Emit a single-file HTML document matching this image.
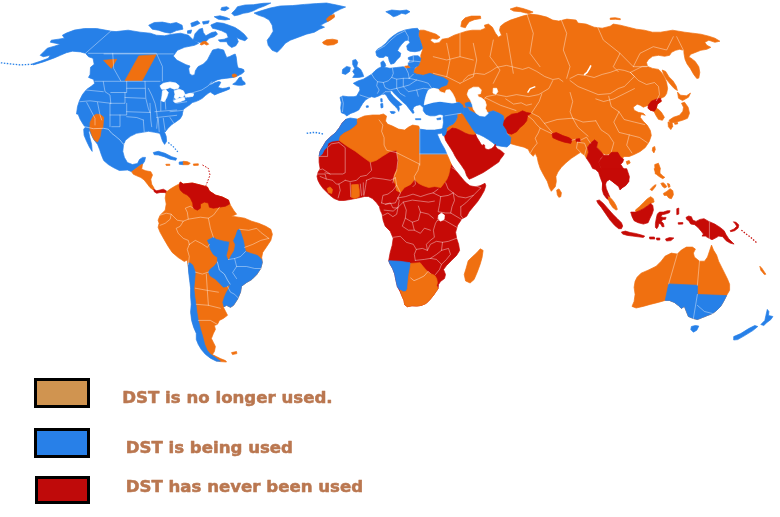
<!DOCTYPE html>
<html><head><meta charset="utf-8"><title>DST map</title>
<style>
html,body{margin:0;padding:0;background:#fff;}
body{width:780px;height:517px;position:relative;overflow:hidden;font-family:"Liberation Sans",Arial,sans-serif;}
svg{position:absolute;left:0;top:0;}
.b{fill:none;stroke:#fff;stroke-opacity:.5;stroke-linecap:round;}
.box{position:absolute;border:3px solid #000;}
.lbl{position:absolute;font-weight:bold;font-size:16px;color:#b87c52;white-space:nowrap;line-height:20px;}
</style></head><body>
<svg width="780" height="517" viewBox="0 0 780 517" stroke-linejoin="round">
<polygon fill="#2680e8" stroke="#2680e8" stroke-width="0.7" points="110.7,31.1 96.6,28.5 84.5,28.5 74.4,30.1 66.4,33.1 62.4,35.2 64.4,38.2 58.4,39.2 51.3,40.2 50.3,42.2 55.3,43.2 60.4,44.2 54.3,46.2 47.3,48.2 44.3,51.2 40.2,55.3 43.3,56.7 50.3,55.3 48.3,58.3 40.2,61.3 32.2,63.9 33.2,64.9 43.3,61.9 54.3,57.9 60.4,55.3 66.4,52.7 72.4,51.2 80.5,51.9 85.5,53.3 88.5,56.7 93,58.3 94.2,64.3 90.5,67.3 90.1,74.4 88.5,77.4 93.6,79.4 94.6,83.4 91.5,86.1 86.5,89.5 82.5,94.5 79.5,100.5 77.5,106.6 76.5,114 78.1,114.2 80.1,119.2 83.1,124.2 85.2,127.3 83.7,129.3 84.1,135.3 86.6,141.3 89.6,147.4 92.2,151.4 91.6,144.4 89.8,137.3 88.8,132.3 89.2,129.9 90.6,133.3 93.6,139.3 97.6,144.4 99.6,149.4 101.6,155.4 103.7,160.5 108.3,164.5 113.3,167.5 119.4,170.5 127.5,170 131.7,171.7 140.8,165 142.5,164.2 144.5,161.5 145.5,157.4 142.5,157.4 139.5,159.5 137.5,163.5 132.4,164.5 127.4,162.5 124.4,157.4 122.8,151.4 123.4,145.4 125.4,140.3 130.4,136.3 136.5,133.3 142.5,132.3 148.5,131.3 154.6,132.3 159.6,133.3 160.6,135.3 162.6,141.3 164.6,144.4 166.6,141.3 166.2,136.3 164.6,132.3 165.6,127.3 165.1,132 168.1,128.2 171.6,124.7 176.1,121.7 180.2,118.7 182.2,115.2 182.7,112.2 183.7,109.1 187.2,106.6 190.2,104.6 192.2,102.6 195.7,101.6 199.2,100.1 202.3,98.3 205.3,95.6 208.3,93.3 210.3,92.1 213.6,94.2 214.6,94.9 218.1,93.4 222.1,91.9 226.2,90.4 229.7,88.9 229.4,87 226.2,88 222.6,88.5 220.1,88 217.9,87.2 219.6,84.7 220.8,82.2 218.9,81.5 214.6,82.7 211.1,84.7 208.6,85.2 210.1,84 213.1,82 217.1,79.9 221.1,78.9 225.2,78.4 229.2,77.9 233.2,77.4 237.2,76.1 239.2,75.1 242.2,73.6 244.2,71.6 243.7,69.6 241.2,68.6 238.2,68.1 237.2,65.1 236.7,61.1 236.2,57 235.2,54 232.7,55 229.7,56.5 226.7,57.5 225.2,54 223.6,50 218.1,48.7 212.7,50 210.1,54.7 207.4,60 203.4,64 198,66.7 195.4,70.7 194.7,74.7 192,75.4 189.4,73.4 188.7,68.7 190,66 186,64.7 182,62.7 176.7,60 173.3,56 177.4,50.3 184.5,47.3 194.5,45.3 198.6,43.3 192.5,39.2 188.5,35.2 180.5,33.2 172.4,34.2 164.4,35.8 156.3,35.2 150.3,33.2 140.2,32.2 128.1,30.2 116.1,31.6 110.6,31.2"/>
<polygon fill="#2680e8" stroke="#2680e8" stroke-width="0.7" points="239.2,77.6 241.2,77.1 242.2,80.2 244.7,82.2 245.3,84.2 242.2,85.2 238.2,85.2 234.2,84.7 232.7,84.2 235.7,82.2 237.7,79.6"/>
<polygon fill="#2680e8" stroke="#2680e8" stroke-width="0.7" points="148.7,25.2 154.3,22.5 162.4,22.1 170.4,23.7 176.4,22.5 182.1,25.2 182.9,29.2 176.4,30.6 170.4,33.2 164.4,32.2 158.3,30.2 152.3,29.2"/>
<polygon fill="#2680e8" stroke="#2680e8" stroke-width="0.7" points="237.5,6.7 245,5 253.3,4.7 263.3,3.3 270.8,3 265,5.8 258.3,8.3 253.3,10.8 248.3,12.5 243.3,13.3 238.3,15 234.2,15.8 231.7,13.3 235,10"/>
<polygon fill="#2680e8" stroke="#2680e8" stroke-width="0.7" points="221.7,7.5 226.7,6.7 229.2,8.3 225,10.8 220.8,10"/>
<polygon fill="#2680e8" stroke="#2680e8" stroke-width="0.7" points="214.2,16.7 220,15.8 226.7,17.5 230,19.2 225,20 218.3,19.2"/>
<polygon fill="#2680e8" stroke="#2680e8" stroke-width="0.7" points="210.8,25 216.7,22.5 223.3,23.3 228.3,25 235,27.5 240,30.8 244.2,34.2 247.5,38.3 245,40.8 240,39.2 236.7,37.5 238.3,41.7 235.8,45.8 231.7,47.5 228.3,45 226.7,41.7 220,41.7 218.3,40 224.2,39.2 228.3,37.5 226.7,33.3 221.7,30.8 216.7,29.2 212.5,28.3"/>
<polygon fill="#2680e8" stroke="#2680e8" stroke-width="0.7" points="190.8,23.3 197.5,20.8 200,23.3 195,25.8 191.7,26.7"/>
<polygon fill="#2680e8" stroke="#2680e8" stroke-width="0.7" points="202.5,21.7 209.2,20.8 208.3,23.3 203.3,24.2"/>
<polygon fill="#2680e8" stroke="#2680e8" stroke-width="0.7" points="187.5,30.8 191.7,30 190.8,33.3 187.5,33.3"/>
<polygon fill="#2680e8" stroke="#2680e8" stroke-width="0.7" points="195,33.8 199.2,29.2 202.5,28.3 203.3,32.5 205.8,35.8 211.7,32.5 215.8,31.7 217.5,34.2 214.2,36.7 209.2,38.3 205.8,41.7 200,42.5 196.7,41.7 193.3,40"/>
<polygon fill="#f07010" stroke="#f07010" stroke-width="0.7" points="138.8,55.9 156.1,54.7 142.2,80.5 125.1,80.5"/>
<polygon fill="#f07010" stroke="#f07010" stroke-width="0.7" points="103.6,60.3 116.7,59.3 111.3,68.4"/>
<polygon fill="#f07010" stroke="#f07010" stroke-width="0.7" points="93.2,116.2 96.2,114.2 100.2,114.6 103.7,117.2 102.9,127.3 101.2,129.9 100.2,136.3 97.6,141.9 94.6,140.3 92.2,135.9 89.8,128.7 90.2,122.2"/>
<polygon fill="#f07010" stroke="#f07010" stroke-width="0.7" points="200,44.2 202.5,41.7 205.8,41.3 208.7,44.2 206.7,45 204.2,43.7 201.7,45"/>
<polygon fill="#f07010" stroke="#f07010" stroke-width="0.7" points="232.4,74.6 234.7,73.9 236.7,74.9 236.2,76.6 233.7,77.3 232.2,76.3"/>
<polygon fill="#ffffff" stroke="#ffffff" stroke-width="0.7" points="160,85.8 163.3,83.3 170,82 175.8,83 179.2,85.8 178.3,88.3 174.2,89.2 170,87.5 165.8,89.2 161.7,89.2"/>
<polygon fill="#ffffff" stroke="#ffffff" stroke-width="0.7" points="162.5,90.8 165.8,89.7 168.3,92.5 166.7,97.5 164.2,101.7 161.3,100.8 162,95.8"/>
<polygon fill="#ffffff" stroke="#ffffff" stroke-width="0.7" points="174.2,90.8 179.2,89.2 183.3,90.8 185,94.2 182.5,97.5 179.2,96.7 176.7,99.2 174.2,97.5 175,94.2"/>
<polygon fill="#ffffff" stroke="#ffffff" stroke-width="0.7" points="173.3,100.8 178.3,98.7 184.2,97.5 185,99.7 180,101.7 175,102.8"/>
<polygon fill="#ffffff" stroke="#ffffff" stroke-width="0.7" points="185,94.7 190,93.3 193.7,93.8 193,96.3 188.3,97 185.3,96.7"/>
<polygon fill="#f07010" stroke="#f07010" stroke-width="0.7" points="131.7,171.7 140.8,165 142.5,164.2 141.7,169.2 145.8,170.8 150.8,171.7 152.5,175 150.8,179.2 151.7,184.2 154.2,188.3 153.3,190 150,187.5 147.5,184.2 144.2,180 140.8,177.5 136.7,175.8 133.3,174.2"/>
<polygon fill="#c60a06" stroke="#c60a06" stroke-width="0.7" points="153.7,189.2 156.7,190.8 160,190 163.3,189.2 166.3,190.8 166.7,193.3 164.2,192.5 160,192.5 156.7,193.3 154.2,191.7"/>
<polygon fill="#2680e8" stroke="#2680e8" stroke-width="0.7" points="153.3,152.5 158.3,151.3 165,153.3 171.7,156.7 176.7,158.3 175.8,160.3 170,159.2 164.2,156.7 158.3,155 154.2,154.7"/>
<polygon fill="#2680e8" stroke="#2680e8" stroke-width="0.7" points="179.2,162 183.3,161.7 183.3,164.7 179.2,164.3"/>
<polygon fill="#f07010" stroke="#f07010" stroke-width="0.7" points="183.3,161.3 187.5,161.7 190.3,163.3 188.3,164.7 183.3,164.7"/>
<polygon fill="#f07010" stroke="#f07010" stroke-width="0.7" points="165.8,164.3 169.7,164.2 170,165.3 166.3,165.5"/>
<polygon fill="#f07010" stroke="#f07010" stroke-width="0.7" points="193.3,164 198.3,163.8 198.3,165.3 193.7,165.5"/>
<polygon fill="#2680e8" stroke="#2680e8" stroke-width="0.7" points="254.1,13.1 260.1,11.1 270.2,8 280.2,6 292.3,5.6 304.4,4.4 316.5,3.6 326.5,3 336.6,5 345.6,7 340.6,9.1 334.6,12.1 331.5,15.1 333.6,17.1 328.5,21.1 324.5,23.1 320.5,25.2 324.5,27.2 319.5,29.2 314.4,32.2 306.4,34.2 298.4,37.2 290.3,40.2 285.3,43.3 281.2,48.3 277.2,52.3 272.2,50.3 268.2,45.3 267.2,40.2 270.2,36.2 273.2,31.2 272.2,25.2 269.2,20.1 264.1,17.1 258.1,15.1"/>
<polygon fill="#f07010" stroke="#f07010" stroke-width="0.7" points="326.5,19.1 329.5,16.1 334.2,14.5 334.6,17.1 330.5,20.1 327.5,21.5"/>
<polygon fill="#f07010" stroke="#f07010" stroke-width="0.7" points="322.5,42.3 326.5,39.8 332.6,39.2 337.6,40.2 337.6,42.7 333.6,44.7 327.5,45.3 323.5,43.9"/>
<polygon fill="#2680e8" stroke="#2680e8" stroke-width="0.7" points="342.6,69.4 346.6,66.4 350.3,67.4 349.7,71.4 345.6,74.4 342.2,73.4"/>
<polygon fill="#2680e8" stroke="#2680e8" stroke-width="0.7" points="352.7,60.4 355.7,59.4 357.7,62.4 356.7,66.4 360.7,69.4 362.7,73.4 363.7,76.5 358.7,77.5 352.7,77.5 354.7,74.4 352.7,71.4 354.7,68.4 352.7,64.4"/>
<polygon fill="#f07010" stroke="#f07010" stroke-width="0.7" points="419.2,30.8 420,30.2 424,30.2 430.1,32.2 436.1,34.2 440.1,37.2 437.1,39.2 432.1,38.6 430.1,40.2 434.1,43.3 439.1,42.7 442.1,39.2 448.2,38.2 454.2,35.2 460.2,33.2 466.3,31.2 472.3,30.2 480.4,30.2 485.4,28.2 484.4,25.2 488.4,24.1 492.4,27.2 495.5,33.2 498.5,37.2 501.5,35.2 499.5,30.2 500.5,26.2 504.5,23.1 510.5,20.1 516.6,18.1 522.6,16.1 530.7,14.1 538.7,15.1 546.8,17.1 552.8,20.1 558.8,21.1 566.9,19.1 576.1,20.1 578,23.1 586.1,24.1 594.1,27.2 602.2,28.2 610.2,26.2 613.3,24.1 620.3,25.2 628.4,27.2 636.4,29.2 644.4,30.2 652.5,32.2 660.5,32.2 666.6,31.2 672.6,30.2 678.7,31.2 684.7,32.2 692.7,33.2 700.8,34.2 708.8,36.2 714.9,38.2 719.9,41.2 714.9,42.3 708.8,40.2 704.8,42.3 706.8,45.3 710.8,47.3 706.8,49.3 700.8,50.3 694.7,52.7 690.7,54.3 688.7,57.3 690.7,57.9 695.2,61.4 698.8,66.8 699.8,72.4 698.8,78.1 696.8,78.5 693.7,74.4 690.3,68.4 687.1,64 685.1,59.4 684.1,54.3 683.7,50.3 679.7,49.3 675.6,50.3 671.6,52.3 669.6,55.3 664.6,56.3 658.5,55.3 652.5,56.3 648.5,59.4 646.5,62.4 647.5,66.4 652.5,68.4 658.5,69.4 661.5,72.4 664.6,77.5 666.6,82.5 667.6,88.5 666.6,93.6 664.6,96.6 660.5,98.6 656.5,100.6 658.4,98.2 661.4,101.2 657.3,104.2 656.3,108.2 658.4,109.2 661.4,112.3 664.4,117.3 662.4,120.3 658.4,119.3 655.9,115.3 653.9,111.2 650.3,110.2 648.3,105.2 643.3,107.2 640.2,105.2 637.2,104.2 633.2,107.2 634.2,110.2 638.2,112.3 643.3,113.3 645.3,115.3 641.2,114.3 640.2,117.3 643.3,121.3 647.3,125.3 650.3,130.4 651.3,135.4 649.3,141.4 645.3,147.5 640.2,151.5 634.2,154.5 629.2,156.5 624.1,156.5 622.1,158.5 620.1,161.5 617.1,156.5 612.1,153.5 606,154.5 600,152.5 603.6,155.3 600.6,151.2 596.6,147.2 597.6,142.2 594.6,139.8 590.5,143.2 587.5,147.2 588.5,152.3 586.5,158.3 584.5,155.3 580.5,152.3 577.5,154.3 571.4,158.3 566,162.7 561.4,167.3 557.9,172 555.9,176.6 556.3,181.4 555.3,186.7 551.3,191.3 549.3,187.5 547.3,181.4 543.3,174.4 540.2,168.4 538.2,162.3 537.2,157.3 535.2,153.3 533.2,156.3 530.2,153.3 528.2,149.2 524.1,147.2 516.1,145.2 509.1,143.2 510.1,138.2 508,133.1 503,125.1 504,121.1 503,116 500,114 499.2,113.3 493.3,110.8 488.3,112.5 484.2,115.8 475,113.3 470,110.8 467.5,107.5 463.3,108.3 461.7,105 459.2,102.5 454.2,100.8 445,96.7 438.3,90 430,83.3 423.3,75.3 416.7,74.2 413.3,72.5 414.2,69.2 418.3,65.8 420,61.7 420.8,58.3 420.8,55 422.5,50 422.5,48.3 421.7,45 420,40 418.3,35"/>
<polygon fill="#f07010" stroke="#f07010" stroke-width="0.7" points="460.8,26.6 461.9,21.1 465.3,17.7 471.3,16.1 480.4,16.1 480.8,18.5 474.3,19.7 469.3,21.7 466.7,25.2 465.3,27.8"/>
<polygon fill="#f07010" stroke="#f07010" stroke-width="0.7" points="510.1,9.1 516.6,7 523,8.5 529.1,10.5 533.1,12.1 528.7,13.7 520.6,11.7 513.6,11.1"/>
<polygon fill="#f07010" stroke="#f07010" stroke-width="0.7" points="610.2,18.1 615.3,17.7 620.3,18.7 620.3,19.7 615.3,19.3 610.2,19.5"/>
<polygon fill="#f07010" stroke="#f07010" stroke-width="0.7" points="662.2,70 665.6,71.4 669,76.9 673,80.9 676.2,86.1 677.4,90.5 674.2,88.5 670.2,84.1 666.2,79.1 663.6,74.4"/>
<polygon fill="#f07010" stroke="#f07010" stroke-width="0.7" points="677.5,92.1 680.5,95.2 686.5,95.8 690.5,93.1 688.5,97.2 682.5,100.6 678.5,98.2"/>
<polygon fill="#f07010" stroke="#f07010" stroke-width="0.7" points="669,120.3 673.4,117.3 679.5,115.3 682.9,111.2 683.5,107.2 681.5,103.2 684.5,102.2 688.1,107.2 689.5,113.3 687.5,118.3 682.5,120.3 676.5,121.9 672.4,122.7 670,122.3"/>
<polygon fill="#f07010" stroke="#f07010" stroke-width="0.7" points="668,121.9 672,122.7 672.8,126.3 670.8,129.6 668.4,126.7"/>
<polygon fill="#f07010" stroke="#f07010" stroke-width="0.7" points="674.4,122.7 677.5,122.3 677.7,123.9 674.8,124.3"/>
<polygon fill="#f07010" stroke="#f07010" stroke-width="0.7" points="652.7,147.5 654.7,146.5 655.3,149.5 653.9,152.9 652.3,150.5"/>
<polygon fill="#f07010" stroke="#f07010" stroke-width="0.7" points="626.2,161.5 629.2,160.5 630.2,163 627.2,164.6"/>
<polygon fill="#f07010" stroke="#f07010" stroke-width="0.7" points="457.1,114 461.6,113 465.1,115 467.1,119 470.2,123.1 472.7,126.6 474.7,130.1 475.7,132.6 475.7,134.6 473.2,135.1 469.1,134.6 465.1,133.1 460.6,130.6 456.1,128.6 452.1,128.1 449.5,130.1 446,132.6 444.5,136.1 444,134.1 445,129.6 449,126.1 453.1,124.1 455.6,121.1 457.1,117.5"/>
<polygon fill="#f07010" stroke="#f07010" stroke-width="0.7" points="556.7,190.1 559,188.9 561.4,192.7 560.8,196.7 558.8,197.3 557.3,194.7"/>
<polygon fill="#2680e8" stroke="#2680e8" stroke-width="0.7" points="385.8,11.7 391.7,10 400,10.8 406.7,10 410,11.7 405.8,14.2 401.7,13.3 396.7,15.8 393.3,16.7 390,14.2"/>
<polygon fill="#2680e8" stroke="#2680e8" stroke-width="0.7" points="375.8,51.7 377.5,49.2 381.7,46.7 385.8,43.3 389.2,39.2 393.3,35.8 398.3,32.5 405,30 411.7,28.7 417.5,28.3 419.2,30.8 418.3,35 420,40 421.7,45 422.5,48.3 420,50.8 415,51.7 410,51.3 407.5,50 406.7,45.8 410,42.5 408.3,40 405,40.8 401.7,44.2 399.2,47.5 397.5,50.8 400.8,53.3 400,56.7 396.7,60 394.2,63.3 390.8,64.2 389.2,60.8 388.3,56.7 385.8,55.8 383.3,57.5 379.2,57.5 376.7,55.8"/>
<polygon fill="#2680e8" stroke="#2680e8" stroke-width="0.7" points="408.3,57.5 413.3,55.8 418.3,55.8 420.8,58.3 420,61.7 418.3,65.8 415,67.5 410.8,67.5 408.3,65.8 408.3,62.5 410.8,60.8 408.3,59.2"/>
<polygon fill="#2680e8" stroke="#2680e8" stroke-width="0.7" points="380.8,62.5 383.3,60.8 385,63.3 385.8,65.8 384.2,67.5 381.3,67"/>
<polygon fill="#2680e8" stroke="#2680e8" stroke-width="0.7" points="353.3,83.3 358.3,80.8 363.3,79.2 367.5,76.7 371.7,74.2 375,70.8 378.3,68.3 381.3,67 385.8,67.5 390,68.3 396.7,67.5 403.3,66.7 405.8,68 410,67.5 415,67.5 414.2,69.2 413.3,72.5 416.7,74.2 423.3,75.3 430,73.3 436.7,75.8 443.3,77.5 448.3,80.8 446.7,85 441.7,86.7 438.3,89.2 434.2,88 430,88.3 428.3,90.8 426.3,95 425.3,100 424.2,104.2 427.5,104.2 433.3,102.5 440,101.7 446.7,102.5 453.3,103.3 455.8,102.8 459.2,102.5 462.5,105 463.7,109.2 463.3,114.2 461.6,113 457.1,114 457.1,117.5 455.6,121.1 453.1,124.1 449,126.1 445,129.6 444,134.1 443,135.6 442.2,131.6 442.8,127.1 443.5,122.1 443,118 443.5,115 445,115.8 440,114.2 435,115.8 430,115.8 425.8,114.2 423.3,110.8 423.3,107.5 420.1,104.7 416.8,105.4 414.1,106.7 412.8,109.4 414.1,112.7 412.8,113.4 410.1,110 408.1,107.4 406.1,104.7 402.8,102 399.4,98.7 396.1,95.4 393.4,92.7 392.1,90.7 390.1,91.3 390.7,93.4 393.4,96.7 396.7,100 400.1,102.7 402.1,104.7 398.7,106 399.4,108.7 398.7,111.4 397.4,108.7 394.7,106 391.4,102.7 388.7,99.4 386.7,96 384.7,94 381.4,94.7 378.7,96 374.7,97.4 371.4,96.7 368.7,98 365.4,100 362.7,103.4 360.7,106.7 358.7,110 354.7,112 350.7,113.4 346.7,116 344.7,114 341.3,112.7 340.7,108 341.3,102.7 340,97.4 342.7,96 348,96.7 354,96.7 356.7,96 360,90 359.2,86.7 356.7,85.8"/>
<polygon fill="#2680e8" stroke="#2680e8" stroke-width="0.7" points="390.1,111.6 393.4,111.4 395.4,112 394.1,113.6 391.4,113.4"/>
<polygon fill="#2680e8" stroke="#2680e8" stroke-width="0.7" points="380.7,103.8 382.7,103.4 383,107.4 381.1,108"/>
<polygon fill="#2680e8" stroke="#2680e8" stroke-width="0.7" points="380.7,98.7 382.1,98.7 382.2,102 380.9,101.8"/>
<polygon fill="#2680e8" stroke="#2680e8" stroke-width="0.7" points="415.4,118.7 420.8,118.7 420.8,119.7 415.7,119.7"/>
<polygon fill="#2680e8" stroke="#2680e8" stroke-width="0.7" points="436.8,118.5 440.8,117.8 440.8,119.5 437.2,119.8"/>
<polygon fill="#f07010" stroke="#f07010" stroke-width="0.7" points="404.7,66.3 408.3,65.8 410,67.5 405.8,68"/>
<polygon fill="#f07010" stroke="#f07010" stroke-width="0.7" points="435,90.8 437.5,89.2 440.8,89.7 444.2,90.8 443.3,92.5 439.2,92.5 436.7,93.3"/>
<polygon fill="#2680e8" stroke="#2680e8" stroke-width="0.7" points="465,103.3 469.2,102 473.3,104.2 473,107 469.2,106.7 465.8,106.3"/>
<polygon fill="#2680e8" stroke="#2680e8" stroke-width="0.7" points="463.3,108.3 467.5,107.5 470,110.8 475,113.3 480,115.8 484.2,115.8 488.3,112.5 493.3,110.8 499.2,113.3 503.3,115.8 504.2,120.8 503.3,125 506.7,130 506.7,133.3 510.8,137.5 510,144.2 507,147 500.8,146.2 495.8,145.3 492.5,142.5 488.3,139.5 483.7,136.7 479.2,134.5 475.8,133.3 473.3,130 470,125 466.7,120 463.3,114.2"/>
<polygon fill="#ffffff" stroke="#ffffff" stroke-width="0.7" points="428.3,90.3 433.3,88.3 438.3,89.2 440,91.7 445,93.3 446.3,90 449.7,89.7 452.5,93.3 455,98.3 455.8,102.5 451.7,103 446.7,102.2 440,101.3 433.3,102.2 427.5,103.8 424.2,105 425,100 426.3,95"/>
<polygon fill="#ffffff" stroke="#ffffff" stroke-width="0.7" points="467.2,94.2 468.8,89.7 473.3,87.2 478.7,87.2 481.3,90 480.5,93.7 477.5,94.3 478.3,96.7 481.7,98 485,100.8 486.3,105 485.3,108.3 487,111.7 488.3,113.3 485,116.3 479.7,115.7 476.2,113.3 473.3,109 472.2,104.5 470.5,100.3 468.3,97"/>
<polygon fill="#ffffff" stroke="#ffffff" stroke-width="0.7" points="493.3,88.3 496.7,88.3 497.8,91.7 495.8,94.2 493,93"/>
<polygon fill="#c60a06" stroke="#c60a06" stroke-width="0.7" points="444.5,136.1 446,132.6 449.5,130.1 452.1,128.1 456.1,128.6 460.6,130.6 465.1,133.1 469.1,134.6 473.2,135.1 475.7,134.6 476.7,137.1 478.7,140.2 480.2,142.7 481.2,144.7 482.7,145.2 483.4,144.4 484.7,145.2 484.7,147 485.2,148.7 488.2,149.7 491.3,148.7 493.8,146.7 495.3,144.2 495.8,146.7 497.3,148.7 500.3,150.2 502.8,152.2 504.3,153.7 502.8,156.2 500.3,159.2 498.8,162 493.3,165.8 488.3,169.2 483.3,172.5 478.3,175 473.3,177.5 469.2,179.2 466.7,175.8 465,170.8 461.7,165.8 457.5,160 455.1,156.2 453.1,152.2 450.6,148.2 448,144.2 445.5,140.2"/>
<polygon fill="#c60a06" stroke="#c60a06" stroke-width="0.7" points="504.2,120.8 506.7,117.5 511.7,114.2 517.5,113.3 522.5,110.8 526.7,112.5 530.8,113.3 527.5,115.8 526.7,120.8 523.3,125 520,127.5 516.7,131.7 511.7,134.2 507.5,133.3 506.7,130 503.3,125"/>
<polygon fill="#c60a06" stroke="#c60a06" stroke-width="0.7" points="551.9,133.7 556.3,132.5 562.8,135.6 568.8,137.6 572,139.8 570.8,143.4 564.4,142.2 558.4,140.2 552.9,137.8"/>
<polygon fill="#c60a06" stroke="#c60a06" stroke-width="0.7" points="575.5,139.2 579.5,138.6 580.5,141.2 576.5,141.8"/>
<polygon fill="#c60a06" stroke="#c60a06" stroke-width="0.7" points="586.5,158.3 588.5,152.3 587.5,147.2 590.5,143.2 594.6,139.8 597.6,142.2 596.6,147.2 600.6,151.2 603.6,155.3 600.6,158.3 598.6,162.3 600.6,167.3 602.6,172.4 603.6,178.4 602.6,183.4 600.6,178.4 598.6,172.4 595.6,169.4 592.6,168.4 590.5,164.3 588.5,161.3"/>
<polygon fill="#c60a06" stroke="#c60a06" stroke-width="0.7" points="598.6,162.3 603.6,155.3 608.7,155.3 611.7,152.3 617.7,152.3 620.7,157.3 623.7,159.3 622.7,162.3 620.7,164.3 624.7,170.4 627.8,176.4 628.8,181.4 625.8,185.5 620.7,188.5 618.7,185.5 613.7,182.4 609.7,179.4 606.6,181.4 604.6,184.4 603.6,189.5 605.6,193.5 608.7,197.5 609.7,200.5 606.6,198.5 603.6,194.5 602.2,189.5 602.6,183.4 603.6,178.4 602.6,172.4 600.6,167.3"/>
<polygon fill="#c60a06" stroke="#c60a06" stroke-width="0.7" points="648.3,105.2 651.3,101.2 656.3,99.2 660.4,98.2 661.4,101.2 657.3,104.2 656.3,108.2 654.3,111.2 650.3,110.2 647.9,108.2"/>
<polygon fill="#c60a06" stroke="#c60a06" stroke-width="0.7" points="600,168.7 601.3,175.3 602.7,182 602.7,187.4 603.4,190.7 606,194 608.7,196.7 610,197.4 608,192.7 606.3,188.7 605.6,184.7 606.3,180.7 608,178 611.4,180.7 615.4,184 618.7,186.7 620,190 622.7,187.4 626,184.7 628.7,181.3 629.4,176.7 628.1,172.7 626.7,168.7"/>
<polygon fill="#f07010" stroke="#f07010" stroke-width="0.7" points="608.7,196.7 611.4,198.7 614,202 616,205.4 617.4,209.4 616,210.1 612.7,207.4 610,203.4 608.4,199.4"/>
<polygon fill="#c60a06" stroke="#c60a06" stroke-width="0.7" points="596.7,200.7 599.3,200 603.4,203.4 608,208.7 612.7,214.1 617.4,218.7 621.4,222.7 622.7,226.1 621.4,228.7 618.7,228.7 614.7,225.4 610,220.1 605.4,213.4 601.3,207.4 598,203.4"/>
<polygon fill="#c60a06" stroke="#c60a06" stroke-width="0.7" points="621.4,232.1 625.4,231.1 630.1,232.5 635.4,233.4 640.7,234.8 644.7,236.1 643.4,237.4 638.1,236.8 632.7,236.1 627.4,235.4 622.7,234.1"/>
<polygon fill="#c60a06" stroke="#c60a06" stroke-width="0.7" points="649.4,237 654.4,237 654.8,239 649.8,239"/>
<polygon fill="#c60a06" stroke="#c60a06" stroke-width="0.7" points="656.4,238 659.8,238 659.8,240 656.8,240"/>
<polygon fill="#c60a06" stroke="#c60a06" stroke-width="0.7" points="665.5,239 669.5,237.6 673.9,238 670.9,240.6 666.5,241"/>
<polygon fill="#f07010" stroke="#f07010" stroke-width="0.7" points="635.4,210.1 639.4,206.7 643.4,202.7 647.4,198.7 650.7,196.7 653.4,198.7 654.1,202 650.7,203.4 647.4,206 643.4,208.7 639.4,210.7 636.1,212.1"/>
<polygon fill="#c60a06" stroke="#c60a06" stroke-width="0.7" points="630.7,212.1 636.1,212.1 639.4,210.7 643.4,208.7 647.4,206 650.7,203.4 652.8,205.4 653.4,210.1 652.1,214.1 650.1,218.1 648.1,222.7 643.4,224.1 638.1,222.7 634.1,220.7 632.1,216.7"/>
<polygon fill="#c60a06" stroke="#c60a06" stroke-width="0.7" points="657.4,214.1 659.4,212.1 663.4,212.1 667.4,210.7 670.1,210.7 669.4,212.7 665.4,214.1 662.1,214.7 660.8,216.7 663.4,217.4 666.1,217.4 665.4,219.4 662.8,219.4 661.4,221.4 663.4,223.4 664.1,226.7 662.1,226.7 660.8,224.1 658.8,223.4 658.1,226.7 656.8,228.7 655.4,227.4 655.4,223.4 656.1,219.4 656.8,216.1"/>
<polygon fill="#c60a06" stroke="#c60a06" stroke-width="0.7" points="676.8,208.7 678.8,208.1 678.8,214.1 676.8,214.7"/>
<polygon fill="#c60a06" stroke="#c60a06" stroke-width="0.7" points="678.1,222.7 682.8,222.5 682.8,224.1 678.4,224.2"/>
<polygon fill="#c60a06" stroke="#c60a06" stroke-width="0.7" points="686,217.4 688.7,216 691.4,216.7 692.7,220 696,221.4 700,219.4 704,218.7 708.7,221.4 714.7,224 720.1,227.4 724.1,230.7 726.1,234.7 728.7,238.7 732.1,242.1 734.1,244.1 730.1,243.1 726.1,240.7 722.7,236.7 718.7,236.1 715.4,238.1 712,239.7 708.7,238.1 705.4,236.1 702,236.1 703.4,234.1 701.4,231.4 698,227.4 694.7,224.7 690.7,224 688.7,220.7 686.7,219.4"/>
<polygon fill="#c60a06" stroke="#c60a06" stroke-width="0.7" points="733.4,221.8 736.1,222.3 738.8,225 738.1,228.1 734.7,230.7 730.7,231.7 730.1,230.7 734.1,229 736.7,226.3 735.4,224"/>
<polyline fill="none" stroke="#c60a06" stroke-width="1.2" stroke-dasharray="1.5 1.5" points="741.4,230.1 745.4,233.4 750.8,237.4 757.4,243.4"/>
<polygon fill="#f07010" stroke="#f07010" stroke-width="0.7" points="654.1,168.7 659.4,168.7 660.1,173.3 662.8,176 664.8,177.3 662.8,178.7 659.4,176.7 656.8,174.7 655.4,172"/>
<polygon fill="#f07010" stroke="#f07010" stroke-width="0.7" points="650.1,189.4 654.1,185.4 656.1,184.7 655.4,186.7 652.1,190.7"/>
<polygon fill="#f07010" stroke="#f07010" stroke-width="0.7" points="660.8,183.4 663.4,182.7 665.4,184.7 666.8,186.7 664.8,188 662.8,186.7"/>
<polygon fill="#f07010" stroke="#f07010" stroke-width="0.7" points="667.4,183.4 669.4,184 670.1,186.7 668.5,187.4"/>
<polygon fill="#f07010" stroke="#f07010" stroke-width="0.7" points="663.4,193.4 666.8,191.4 670.1,188.7 672.8,190.7 673.4,194.7 671.4,198.7 668.8,198 666.8,195.4 664.1,195.4"/>
<polygon fill="#f07010" stroke="#f07010" stroke-width="0.7" points="654.7,164.6 658.4,163.2 660.4,168.6 659.2,174 655.3,174"/>
<polygon fill="#f07010" stroke="#f07010" stroke-width="0.7" points="637.1,277.2 641.1,273.2 648.1,270.2 656.2,266.2 661.2,261.2 665.2,256.1 671.3,253.1 677.3,254.1 681.3,250.1 686.4,247.1 692.4,247.1 695.4,249.1 693.4,253.1 694.4,257.1 699.5,261.2 704.5,261.2 707.5,257.1 709.5,251.1 711.5,245.1 713.5,250.1 716.6,255.1 718.6,261.2 721.6,267.2 724.6,273.2 727.6,279.3 729.6,284.3 729.6,290.3 726.6,295.4 723.6,301.4 720.6,306.4 716.6,310.4 712.5,313.5 707.5,315.5 702.5,317.5 697.4,319.5 693.4,318.5 688.4,316.5 686.4,311.5 684.4,306.4 681.3,308.4 678.3,305.4 674.3,302.4 669.3,300.4 665.2,300.4 658.2,302.4 650.2,304.4 643.1,306.4 636.1,308 632,306.4 634.1,301.4 635.1,294.4 634.1,287.3 635.1,281.3"/>
<polygon fill="#2680e8" stroke="#2680e8" stroke-width="0.7" points="668.7,283.9 697.4,285.3 697.4,294.4 726.6,295.6 723.6,301.4 720.6,306.4 716.6,310.4 712.5,313.5 707.5,315.5 702.5,317.5 697.4,319.5 693.4,318.5 688.4,316.5 686.4,311.5 684.4,306.4 681.3,308.4 678.3,305.4 674.3,302.4 669.3,300.4 665.2,300.4"/>
<polygon fill="#2680e8" stroke="#2680e8" stroke-width="0.7" points="691.4,326.5 695.4,325.5 698.8,326.1 696.8,330.2 693.4,332.2 690.8,329.6"/>
<polygon fill="#2680e8" stroke="#2680e8" stroke-width="0.7" points="767.3,309.4 768.9,311.5 768.5,315.5 772.9,316.5 770.9,319.5 766.9,322.5 763.8,325.5 760.8,324.5 764.8,320.5 765.9,315.5"/>
<polygon fill="#2680e8" stroke="#2680e8" stroke-width="0.7" points="733.7,336.6 740.7,333.6 748.7,328.6 754.8,325.5 757.8,326.5 752.8,330.6 744.7,335.6 737.7,339.6 733.7,340"/>
<polygon fill="#f07010" stroke="#f07010" stroke-width="0.7" points="759.8,266.2 761.8,268.2 765.9,274.2 764.4,274.6 760.8,270.2"/>
<polygon fill="#c60a06" stroke="#c60a06" stroke-width="0.7" points="346.7,122.1 356,122.7 364,119.4 377.4,118.5 382.7,118.7 384.1,124.1 390.1,128.1 398.7,132.7 406.1,135.4 411.4,130.1 420.1,132.1 430.8,133.4 436.1,133.4 435,135 438.3,141.7 441.7,148.3 444.2,152.5 446.7,156.7 449.5,161.7 453,167 456.7,171.7 460.8,176.7 464.2,180.8 466.7,183.3 470,185.8 475,186.7 480,185.8 485,183.3 485.8,185.8 484.2,190.8 480.8,196.7 477.5,201.7 473.3,206.7 469.2,211.7 466.7,216.2 461.6,219.2 457.6,225.2 455.6,232.3 456.6,238.3 458.6,244.3 459.6,250.4 456.6,255.4 451.5,260.4 446.5,265.5 443.5,269.5 445.5,274.5 444.5,278.5 440.5,281.5 438.5,284.6 438.1,288.7 436.1,291.4 433.4,295.4 430.1,299.4 426.1,303.4 421.4,305.4 416.7,306.1 412,305.8 407.4,306.7 404.7,304.7 404,300.7 402,296.1 400,291.4 397.4,286.7 396,280.7 394.7,274 392.7,268.7 390,264 388.7,260.7 390.2,252.4 392.2,245.3 393.2,238.3 390.2,231.2 385.2,226.2 383.1,220.2 382.1,214.1 380.4,210.6 379.4,206.6 376.4,202.6 372.4,198.5 368.4,196.5 364.3,196.5 360.3,197.5 355.3,198.5 350.2,199.5 344.2,200.5 339.2,200.5 334.1,198.5 330.1,195.5 327.1,192.5 323.1,188.5 320.1,184.4 318,180.4 317,176.4 318,172.4 320.1,168.4 319.1,162.3 319.1,156.3 320.1,151.2 323.1,146.2 326.1,141.2 330.1,137.2 335.2,133.1 339.2,128.1 342.2,123.1 346.2,119.1"/>
<polygon fill="#2680e8" stroke="#2680e8" stroke-width="0.7" points="346.2,119.1 350.2,118 357.3,119.1 357.3,124.1 354.3,127.1 350.2,130.1 344.2,133.1 340.2,136.2 339.2,140.2 332.1,141.2 328.1,143.2 327.1,147.2 324.1,150.2 322.1,154.3 319.1,156.3 320.1,151.2 323.1,146.2 326.1,141.2 330.1,137.2 335.2,133.1 339.2,128.1 342.2,123.1"/>
<polygon fill="#f07010" stroke="#f07010" stroke-width="0.7" points="357.3,119.1 364.3,116 372.4,115 379.4,115 383.4,114 386.5,116 385.5,121.1 387.5,124.1 392.5,126.1 398.5,129.1 404.6,130.1 408.6,127.1 412.6,125.1 418.7,126.1 419.7,129.1 419.7,153.9 446.8,153.9 448.8,158.3 451.2,164.3 450,168.4 448.8,174.4 446.8,179.4 443.8,183.4 440.8,187.5 434.7,186.5 428.7,187.5 422.7,185.5 418.7,183.4 414.6,179.4 410.6,184.4 404.6,187.5 400.5,192.5 396.5,190.5 395.5,184.4 393.5,180.4 394.5,174.4 397.5,168.4 398.5,160.3 397.5,155.3 396.5,150.2 390.5,151.2 382.4,156.3 376.4,160.3 370.4,162.3 363.3,157.3 355.3,151.2 347.2,146.2 340.2,141.2 339.2,140.2 340.2,136.2 344.2,133.1 350.2,130.1 354.3,127.1 357.3,124.1"/>
<polygon fill="#2680e8" stroke="#2680e8" stroke-width="0.7" points="419.7,129.1 426.7,130.1 434.7,130.1 440.8,129.1 443.8,128.1 446.8,129.1 445.8,134.1 443.8,136.2 441.8,133.1 437.2,134.1 440.8,142.2 444.8,149.2 446.8,153.9 419.7,153.9"/>
<polygon fill="#f07010" stroke="#f07010" stroke-width="0.7" points="351.6,184.8 358.3,184.4 359.3,190.5 359.3,196.5 355.3,198.5 351.6,197.5"/>
<polygon fill="#f07010" stroke="#f07010" stroke-width="0.7" points="327.1,188.5 330.1,186.9 332.5,189.5 331.7,193.5 328.5,192.5"/>
<polygon fill="#2680e8" stroke="#2680e8" stroke-width="0.7" points="388.7,260.7 400,261.3 410,262.7 410.7,264 410,268.7 408.7,275.4 408,282 407.4,288.7 406,291.4 403.4,291.7 400,290.1 397.4,286.7 396,280.7 394.7,274 392.7,268.7 390,264"/>
<polygon fill="#f07010" stroke="#f07010" stroke-width="0.7" points="410.7,263.4 420.1,262.7 422.7,266 426.1,270 430.1,273.4 434.7,275.4 436.7,278.7 437.4,282.7 436.7,285.4 438.1,288.7 436.1,291.4 433.4,295.4 430.1,299.4 426.1,303.4 421.4,305.4 416.7,306.1 412,305.8 407.4,306.7 404.7,304.7 404,300.7 402,296.1 400,290.1 403.4,291.7 406,291.4 407.4,288.7 408,282 408.7,275.4 410,268.7"/>
<polygon fill="#f07010" stroke="#f07010" stroke-width="0.7" points="480.3,248.8 483.1,250.4 482.1,257.4 480.1,264.4 477.1,272.5 474.1,279.5 470.1,283 465.6,280.9 464.2,274.5 466.2,268.1 468.2,260.8 472.3,256.8 476.7,252.8"/>
<polygon fill="#ffffff" stroke="#ffffff" stroke-width="0.7" points="438.5,215.2 441.5,213.1 444.5,215.2 444.1,219.2 440.5,221.2 438.1,218.6"/>
<polygon fill="#f07010" stroke="#f07010" stroke-width="0.7" points="166.2,192.1 170.2,189.1 175.2,186 179.2,184 180.2,182 183.3,184 192.3,183 200.4,185 207.4,187 209.4,191.1 215.5,195.1 222.5,197.1 228.5,200.1 230.5,205.2 233.6,210.2 236.6,214.2 231.5,216.2 238.6,217.2 244.6,218.2 251.7,221.2 258.7,223.3 265.8,226.3 270.8,229.3 272.4,234.3 270.8,240.4 266.8,246.4 262.7,252.4 261.7,257.5 262.3,262.5 260.7,268.5 256.7,274.6 251.7,279.6 246.6,282.5 241.5,286.2 240.5,292.2 237.5,299.2 233.5,305.3 230.5,307.3 226.5,305.3 223.4,307.3 225.5,311.3 227.5,315.3 223.4,318.4 219.4,320.4 217.4,324.4 214.4,325.4 215.4,329.4 213.4,333.4 211.4,338.5 213.4,342.5 215.4,346.5 214.4,351.5 212.4,354.6 216.4,356.6 220.4,358.6 225.5,360.6 226.5,362 220.4,361.6 216.4,360.6 211.4,357.6 206.3,353.6 202.3,349.5 199.3,344.5 197.3,339.5 197.3,333.4 194.3,327.4 192.3,320.4 191.2,312.3 191.9,304.3 191.2,296.2 191.2,288.2 190.2,280.1 189.2,272.1 188.2,266 187.2,260 184.3,261.5 178.2,257.5 172.2,252.4 168.2,246.4 164.1,239.4 160.1,232.3 158.1,227.3 159.1,223.3 158.1,220.2 160.1,215.2 165.2,210.2 166.2,204.1 165.2,198.1"/>
<polygon fill="#2680e8" stroke="#2680e8" stroke-width="0.7" points="188.2,263 188.6,272.1 189.6,280.1 190.6,288.2 190.6,296.2 191.2,304.3 190.6,312.3 191.6,320.4 193.7,327.4 196.3,333.4 196.3,339.5 198.3,344.5 201.3,349.5 205.3,354.2 210.4,358.2 216.4,361.2 220.4,361.2 215.4,357.6 210.4,354.2 207.3,350.5 204.7,344.5 202.7,336.5 200.3,328.4 198.3,320.4 196.9,312.3 195.9,304.3 194.7,296.2 193.9,288.2 194.7,280.1 195.3,272.1 192.7,265 190.2,263"/>
<polygon fill="#2680e8" stroke="#2680e8" stroke-width="0.7" points="207.4,240.4 213.4,237.3 216.5,239.4 224.5,241.4 230.5,242.4 233.6,240.4 235.6,236.3 237.6,230.3 239.6,229.3 241.6,235.3 243.6,241.4 244.6,247.4 245.6,251.4 250.7,253.4 257.7,255.5 261.7,259.5 262.3,262.5 260.7,268.5 256.7,274.6 251.7,279.6 246.6,282.5 241.5,286.2 240.5,292.2 237.5,299.2 233.5,305.3 230.5,307.3 226.5,305.3 224,306.7 222.8,302.3 224.4,297.2 226.5,292.2 228.9,288.2 230.1,284.1 227.5,286.2 223.4,287.2 219.4,283.1 215.4,279.1 210.4,276.1 208.4,272.1 210.4,269.1 214.4,266 217.4,262 217.5,257.5 213.4,254.4 210.4,249.4 209.4,244.4"/>
<polygon fill="#f07010" stroke="#f07010" stroke-width="0.7" points="229.5,242.4 232.6,240.4 234.6,244.4 233.6,250.4 230.5,255.5 228.5,259.5 226.9,255.5 228.5,249.4"/>
<polygon fill="#c60a06" stroke="#c60a06" stroke-width="0.7" points="180.2,182 179.2,186 180.2,190.1 183.3,193.1 187.3,195.1 190.3,198.1 192.7,203.1 193.3,208.2 197.3,210.2 200.4,208.2 200.4,204.1 204.4,202.1 208.4,203.1 209.4,207.2 213.4,208.2 219.5,207.2 225.5,206.2 229.5,204.1 228.5,200.1 222.5,197.1 215.5,195.1 209.4,191.1 207.4,187 200.4,185 192.3,183 183.3,184"/>
<polygon fill="#f07010" stroke="#f07010" stroke-width="0.7" points="231.5,352.6 236.5,351.5 236.9,353.6 232.5,354.6"/>
<polyline class="b" stroke-width="0.8" points="110.7,31.1 85.5,53.3"/>
<polyline class="b" stroke-width="0.8" points="88.5,53.3 156.1,53.3"/>
<polyline class="b" stroke-width="0.8" points="104,53.9 173.4,53.9"/>
<polyline class="b" stroke-width="0.8" points="95,81.3 160,81.3"/>
<polyline class="b" stroke-width="0.8" points="185,95 193.3,92.5 201.7,90 208.3,85.8 211.7,81.7"/>
<polyline class="b" stroke-width="0.8" points="85.8,90 103.3,91.7"/>
<polyline class="b" stroke-width="0.8" points="103.3,81.7 105,91.7 110,95 110.8,103.3"/>
<polyline class="b" stroke-width="0.8" points="80,101.7 90,100.8 110.8,103.3"/>
<polyline class="b" stroke-width="0.8" points="110.8,92.5 126.7,92.5 126.7,81.3"/>
<polyline class="b" stroke-width="0.8" points="126.7,88.3 145,88.3"/>
<polyline class="b" stroke-width="0.8" points="125,97.5 145,98.3"/>
<polyline class="b" stroke-width="0.8" points="145,81.3 145.8,98.3 148.3,108.3 150,112.5"/>
<polyline class="b" stroke-width="0.8" points="110.8,103.3 125,103.3 125,92.5"/>
<polyline class="b" stroke-width="0.8" points="110,115 126.7,115 126.7,103.3"/>
<polyline class="b" stroke-width="0.8" points="126.7,111.7 150,112.5"/>
<polyline class="b" stroke-width="0.8" points="110,103.3 110,126.7"/>
<polyline class="b" stroke-width="0.8" points="120,115 120,126.7 111.7,126.7"/>
<polyline class="b" stroke-width="0.8" points="97.5,102.5 100,115 101.7,120"/>
<polyline class="b" stroke-width="0.8" points="86.7,102.5 95,118.3 95,125"/>
<polyline class="b" stroke-width="0.8" points="150,103.3 150.8,120 151.7,126.7"/>
<polyline class="b" stroke-width="0.8" points="148.3,88.3 151.7,95 155,103.3 156.7,111.7 157.5,120 156.7,128.3"/>
<polyline class="b" stroke-width="0.8" points="143.3,120 144.2,131.7"/>
<polyline class="b" stroke-width="0.8" points="126.7,116.7 136.7,117.5 143.3,120"/>
<polyline class="b" stroke-width="0.8" points="155,111.7 176.7,110"/>
<polyline class="b" stroke-width="0.8" points="156.7,117.5 176.7,115.3"/>
<polyline class="b" stroke-width="0.8" points="163.3,118.3 165,130"/>
<polyline class="b" stroke-width="0.8" points="158.3,118.3 159.2,131.7"/>
<polyline class="b" stroke-width="0.8" points="170,117.5 175,125"/>
<polyline class="b" stroke-width="0.8" points="165,98.3 165.8,109.2"/>
<polyline class="b" stroke-width="0.8" points="160.8,100 160.8,110.8"/>
<polyline class="b" stroke-width="0.8" points="173.3,99.2 186.7,97.5"/>
<polyline class="b" stroke-width="0.8" points="176.7,103.3 186.7,101.7"/>
<polyline class="b" stroke-width="0.8" points="170,111.7 186.7,110"/>
<polyline class="b" stroke-width="1" points="82.5,126.3 88.3,127.5 93.3,128.7 103.3,128.3 108.3,129.2 111.7,133.3 115,135.8 120,140 123.3,144.2 125,143.3"/>
<polyline class="b" stroke-width="0.8" points="112.7,53.3 113.7,68.4 120.7,80.8"/>
<polyline class="b" stroke-width="0.8" points="156.7,53.9 162.4,66.4 162.4,80.9"/>
<polyline class="b" stroke-width="0.8" points="463.3,80.5 468.3,75.5 476.3,73.4 484.4,74.4 490.4,71.4 496.5,67.4 506.5,65.4 514.6,67.4 522.6,69.4 528.7,67.4 536.7,71.4 544.7,76.5 552.8,79.5 558.8,78.5 562.9,81.5"/>
<polyline class="b" stroke-width="0.8" points="480.4,104 486.4,96.6 496.5,94.6 506.5,96.6 516.6,94.6 528.7,96.6 538.7,94.6 548.8,88.5 552.8,80.5"/>
<polyline class="b" stroke-width="0.8" points="570,78.5 578,74.4 586.1,75.5 594.1,77.5 602.2,74.4 610.2,72.4 618.3,69.4 624.3,70.4 630.4,72.4 636.4,69.4 642.4,66.4 647.5,66.4"/>
<polyline class="b" stroke-width="0.8" points="570,80.5 578,86.5 588.1,90.5 598.2,94.6 610.2,93.6 618.3,88.5 624.3,86.5 630.4,80.5 634.4,76.5 630.4,72.4"/>
<polyline class="b" stroke-width="0.8" points="630.4,72.4 638.4,80.5 646.5,84.5 654.5,82.5 658.5,86.5 659.5,94.6 656.5,100.6"/>
<polyline fill="none" stroke="#ffffff" stroke-width="1.6" points="584.1,74.8 587.1,72.4 589.7,68 590.9,65.4"/>
<polyline class="b" stroke-width="0.8" points="530.2,153.3 533.2,148.2 537.2,143.2 535.2,138.2 538.2,133.1 540.2,128.1 536.2,124.1 533.2,120.1 528.2,116"/>
<polyline class="b" stroke-width="0.8" points="540.2,128.1 546.3,131.1 551.9,133.7"/>
<polyline class="b" stroke-width="0.8" points="572,140.2 575.5,139.2"/>
<polyline class="b" stroke-width="0.8" points="580.5,140.2 586.5,137.2 590.5,143.2"/>
<polyline class="b" stroke-width="0.8" points="577.5,142.2 576.5,148.2 580.5,152.3"/>
<polyline class="b" stroke-width="0.8" points="577.5,142.2 584.5,143.2 586.5,148.2 584.5,155.3"/>
<polyline fill="none" stroke="#ffffff" stroke-width="1.4" points="527.6,92.7 530.2,88.6 535.3,86.6"/>
<polyline class="b" stroke-width="0.8" points="541.8,93.8 539.2,101.5 534.1,109.2 531.5,113.1 539.2,116.9 544.4,123.4 552.1,132.4"/>
<polyline class="b" stroke-width="0.8" points="544.4,123.4 557.2,119.5 572.7,118.2 583,122.1 595.8,120.8"/>
<polyline class="b" stroke-width="0.8" points="570.1,92.5 572.7,101.5 570.1,111.8 572.7,118.2"/>
<polyline class="b" stroke-width="0.8" points="595.8,98.9 603.6,101.5 613.8,98.9 624.1,93.8 634.4,88.6"/>
<polyline class="b" stroke-width="0.8" points="485.1,97.6 492.9,101.5 500.6,105.3 508.3,107.9 516,110.5"/>
<polyline class="b" stroke-width="0.8" points="505.7,98.9 513.5,104.1 521.2,102.8 526.3,105.3 531.5,104.1"/>
<polyline class="b" stroke-width="0.8" points="572.7,118.2 577.8,127.2 588.1,136.2"/>
<polyline class="b" stroke-width="0.8" points="595.8,120.8 601,129.8 608.7,134.9 613.8,142.7 611.3,151.7"/>
<polyline class="b" stroke-width="0.8" points="608.7,96.3 611.3,106.6 619,111.8 624.1,119.5 634.4,122.1 644.7,124.6"/>
<polyline class="b" stroke-width="0.8" points="619,111.8 613.8,122.1 619,132.4 629.3,134.9 639.6,137.5 647.3,142.7"/>
<polyline class="b" stroke-width="0.8" points="629.3,134.9 626.7,145.2 631.9,153"/>
<polyline class="b" stroke-width="0.8" points="318.8,156.4 327.6,156.4 327.6,147.6 331.4,143.9 338.9,142.6"/>
<polyline class="b" stroke-width="0.8" points="338.9,142.6 345.2,147.6 345.2,172.8 342.7,174 330.1,174 325.1,172.8"/>
<polyline class="b" stroke-width="0.8" points="370.3,162.7 371.6,170.3 366.5,175.3 360.3,176.5 356.5,180.3 350.2,181.6 345.2,180.3"/>
<polyline class="b" stroke-width="0.8" points="366.5,180.3 372.8,177.8 382.9,179 390.4,180.3 395.4,177.8"/>
<polyline class="b" stroke-width="0.8" points="366.5,180.3 365.3,187.8 364,195.4"/>
<polyline class="b" stroke-width="0.8" points="395.4,177.8 396.7,185.3 392.9,190.4 387.9,194.1 382.9,195.4 381.6,202.9"/>
<polyline class="b" stroke-width="0.8" points="360.3,184.1 361.5,195.4"/>
<polyline class="b" stroke-width="0.8" points="363.3,182.8 363.3,194.9"/>
<polyline class="b" stroke-width="0.8" points="338.9,184.1 340.2,190.4 338.1,197.9"/>
<polyline class="b" stroke-width="0.8" points="350.2,182.8 350.7,196.6"/>
<polyline class="b" stroke-width="0.8" points="320.1,176.5 326.3,179 332.6,180.3 336.4,184.1 338.9,184.1 345.2,180.3"/>
<polyline class="b" stroke-width="0.8" points="317.5,170.3 322.6,169 330.1,174"/>
<polyline class="b" stroke-width="0.8" points="317.5,174 325.1,174 326.3,179"/>
<polyline class="b" stroke-width="0.8" points="396.7,185.3 400.5,192.9 397.9,197.9 395.4,202.9 385.4,204.2"/>
<polyline class="b" stroke-width="0.8" points="397.9,197.9 405.5,196.6 413,194.1 420.6,196.6 428.1,194.1 433.1,192.9 438.1,189.1"/>
<polyline class="b" stroke-width="0.8" points="381.6,202.9 385.4,204.2 390.4,202.9 392.9,207.9 397.9,207.9 399.2,200.4 397.9,197.9"/>
<polyline class="b" stroke-width="0.8" points="382.9,215.5 387.9,213 392.9,216.7 396.7,214.2 397.9,207.9"/>
<polyline class="b" stroke-width="0.8" points="433.1,192.9 440.7,196.6 448.2,195.4 453.2,192.9"/>
<polyline class="b" stroke-width="0.8" points="445.7,182.8 448.2,189.1 453.2,192.9 458.2,196.6 465.8,197.9 473.3,195.4"/>
<polyline class="b" stroke-width="0.8" points="465.8,179 470.8,184.1 480.9,187.8 473.3,195.4 465.8,202.9 460.8,206.7"/>
<polyline class="b" stroke-width="0.8" points="452,167.7 458.2,171.5 463.3,175.3 467,179"/>
<polyline class="b" stroke-width="0.8" points="453.2,192.9 454.5,200.4 452,206.7 450.7,213"/>
<polyline class="b" stroke-width="0.8" points="460.8,206.7 460.8,215.5 464.5,220.5"/>
<polyline class="b" stroke-width="0.8" points="440.7,196.6 439.4,205.4 438.1,211.7 445.7,213 450.7,213 463.3,220.5"/>
<polyline class="b" stroke-width="0.8" points="384.1,210.1 393.2,211.1 398.2,207.1 403.3,202.1 412.3,200.1 420.4,201.1 428.4,202.1 434.4,201.1"/>
<polyline class="b" stroke-width="0.8" points="437.5,220.2 435.5,223.2 433.4,230.2 434.4,237.3 430.4,240.3 426.4,244.3 427.4,250.4 422.4,248.4 416.3,249.4 413.3,244.3 406.3,242.3 400.2,236.3 393.2,237.3"/>
<polyline class="b" stroke-width="0.8" points="416.3,249.4 414.3,254.4 415.3,260.4"/>
<polyline class="b" stroke-width="0.8" points="427.4,250.4 430.4,244.3 436.5,241.3 442.5,242.3 441.5,250.4 436.5,254.4 430.4,258.4 424.4,259.4 415.3,260.4"/>
<polyline class="b" stroke-width="0.8" points="437.5,220.2 444.5,220.2 456.6,227.2"/>
<polyline class="b" stroke-width="0.8" points="456.6,238.3 448.5,241.3 442.5,242.3"/>
<polyline class="b" stroke-width="0.8" points="430.4,258.4 436.5,259.4 441.5,264.4 439.5,269.5 435.5,274.5"/>
<polyline class="b" stroke-width="0.8" points="441.5,250.4 448.5,248.4 450.5,254.4 446.5,259.4 441.5,264.4"/>
<polyline class="b" stroke-width="0.8" points="403.3,202.1 406.3,210.1 405.3,218.2 412.3,222.2 418.4,220.2 420.4,212.1 418.4,206.1"/>
<polyline class="b" stroke-width="0.8" points="412.3,222.2 414.3,230.2 420.4,233.3 424.4,228.2 430.4,230.2"/>
<polyline class="b" stroke-width="0.8" points="420.4,212.1 428.4,214.1 433.4,218.2"/>
<polyline class="b" stroke-width="0.8" points="405.3,218.2 402.3,226.2 408.3,230.2 414.3,230.2"/>
<polyline class="b" stroke-width="0.9" points="410.7,278 414,280.7 418.7,278.7 424.1,276 428.1,271.4 430.1,273.4"/>
<polyline class="b" stroke-width="0.8" points="379.1,120 382.9,125 381.6,131.3 384.1,137.6 384.1,145.1 386.6,150.2 396.7,152.7 419.3,164"/>
<polyline class="b" stroke-width="0.8" points="419.8,128.8 419.8,165.2"/>
<polyline class="b" stroke-width="0.8" points="419.8,153.9 450.7,153.9"/>
<polyline class="b" stroke-width="0.8" points="419.3,164 418,170.3 414.3,176.5 415.5,184.1 413,186.6"/>
<polyline class="b" stroke-width="0.8" points="396.7,152.7 397.9,160.2 396.7,170.3 394.2,176.5 392.9,182.8"/>
<polyline class="b" stroke-width="0.8" points="160.1,215.2 166.2,213.2 171.2,214.2 170.2,219.2 165.2,223.3 160.1,225.3"/>
<polyline class="b" stroke-width="0.8" points="171.2,214.2 177.2,220.2 183.3,221.2 188.3,219.2 187.3,212.2 185.3,208.2 190.3,206.2 193.3,208.2"/>
<polyline class="b" stroke-width="0.8" points="183.3,221.2 180.2,226.3 176.2,228.3 178.2,233.3 183.3,238.4 188.3,240.4 189.3,244.4"/>
<polyline class="b" stroke-width="0.8" points="189.3,244.4 187.3,249.4 189.3,256.5 188.3,264.5"/>
<polyline class="b" stroke-width="0.8" points="189.3,244.4 195.3,240.4 201.4,243.4 207.4,247.4 209.4,244.4"/>
<polyline class="b" stroke-width="0.8" points="188.3,219.2 200.4,217.2 208.4,218.2 213.4,215.2 219.5,207.2"/>
<polyline class="b" stroke-width="0.8" points="208.4,218.2 210.4,228.3 213.4,237.3"/>
<polyline class="b" stroke-width="0.8" points="244.6,247.4 252.7,244.4 260.7,240.4 268.8,238.4"/>
<polyline class="b" stroke-width="0.8" points="239.6,229.3 248.7,230.3 256.7,228.3 260.7,232.3 268.8,238.4"/>
<polyline class="b" stroke-width="0.8" points="245.6,251.4 240.6,256.5 234.6,258.5 228.5,259.5"/>
<polyline class="b" stroke-width="0.8" points="234.6,258.5 236.6,266.5 232.6,272.6 236.6,278.6"/>
<polyline class="b" stroke-width="0.8" points="236.6,266.5 246.6,266.5 254.7,268.5 260.7,268.5"/>
<polyline class="b" stroke-width="0.8" points="195.3,272.1 202.3,274.1 208.4,272.1"/>
<polyline class="b" stroke-width="0.8" points="195.3,288.2 206.3,290.2 218.4,292.2"/>
<polyline class="b" stroke-width="0.8" points="196.3,304.3 208.4,305.3 220.4,308.3"/>
<polyline class="b" stroke-width="0.8" points="198.3,320.4 210.4,320.4 217.4,324.4"/>
<polyline class="b" stroke-width="0.8" points="206.3,274.1 207.3,290.2 208.4,305.3"/>
<polyline class="b" stroke-width="0.8" points="227.5,286.2 230.5,292.2 234.5,294.2 238.5,298.2"/>
<polyline class="b" stroke-width="1" points="217.4,262 219.4,270.1 224.4,274.1 227.5,280.1 230.1,284.1"/>
<polyline class="b" stroke-width="0.8" points="677.3,254.1 668.7,283.9"/>
<polyline class="b" stroke-width="0.8" points="699.5,261.2 697.4,285.3"/>
<polyline class="b" stroke-width="0.8" points="697.4,294.4 693.4,318.5"/>
<polyline class="b" stroke-width="0.8" points="697.4,305.4 704.5,311.5 712.5,313.5"/>
<polyline class="b" stroke-width="0.8" points="709.4,222 709.4,238.7"/>
<polyline class="b" stroke-width="0.8" points="360,95 370,98.3"/>
<polyline class="b" stroke-width="0.8" points="371.7,74.2 374.2,78.3 377.5,81.7 376.7,85.8 379.2,90 377.5,93.3"/>
<polyline class="b" stroke-width="0.8" points="392.5,68.3 393.3,73.3 391.7,77.5"/>
<polyline class="b" stroke-width="0.8" points="405.8,68 408.3,73.3 409.2,78.3"/>
<polyline class="b" stroke-width="0.8" points="377.5,81.7 383.3,82.5 388.3,80.8 391.7,77.5 396.7,79.2 403.3,78.3 409.2,78.3"/>
<polyline class="b" stroke-width="0.8" points="380,96.7 385,91.7 391.7,91.7"/>
<polyline class="b" stroke-width="0.8" points="409.2,78.3 416.7,80 423.3,81.7 428.3,83.3 431.7,88.3"/>
<polyline class="b" stroke-width="0.8" points="409.2,78.3 413.3,74.2"/>
<polyline class="b" stroke-width="0.8" points="377.5,50 385,45.8 390,40.8 396.7,35 405,30.8"/>
<polyline class="b" stroke-width="0.8" points="405,30.8 408.3,36.7 408.3,40"/>
<polyline class="b" stroke-width="0.8" points="383.3,82.5 385,87.5 390,90 396.7,88.3 403.3,86.7 409.2,85 416.7,80"/>
<polyline class="b" stroke-width="0.8" points="396.7,79.2 396.7,88.3"/>
<polyline class="b" stroke-width="0.8" points="403.3,78.3 403.3,86.7 408.3,91.7 416.7,90 423.3,88.3 430,89.2"/>
<polyline class="b" stroke-width="0.8" points="396.7,88.3 400,93.3 405,96.2"/>
<polyline class="b" stroke-width="0.8" points="416.7,90 418.3,96.2"/>
<polyline class="b" stroke-width="0.8" points="341.7,96.7 343.3,103.3 342.5,111.7"/>
<polyline class="b" stroke-width="0.8" points="445,115.8 455,114.2 460.8,113.3"/>
<polyline class="b" stroke-width="0.8" points="413.3,55.8 413.3,61.7 408.3,62.5"/>
<polyline class="b" stroke-width="0.8" points="410.8,60.8 420,61.7"/>
<polyline fill="none" stroke="#2680e8" stroke-width="1.3" stroke-dasharray="1.5 1.5" points="32.2,64.3 20.1,64.9 10.1,63.9 0,62.7"/>
<polyline fill="none" stroke="#2680e8" stroke-width="1.2" stroke-dasharray="1.5 1.5" points="168.3,142.5 173.3,146.7 178.3,152.5"/>
<polyline fill="none" stroke="#c60a06" stroke-width="1.0" stroke-dasharray="1.5 1.5" points="202.5,165 208.3,168.3 210,175 207.5,181.7 205.8,185.8"/>
<polyline fill="none" stroke="#2680e8" stroke-width="1.5" stroke-dasharray="1.5 1.5" points="306.7,133.3 315,132.3 323.3,134"/>
<polygon fill="#2680e8" stroke="#2680e8" stroke-width="0.7" points="366.2,105.9 368.2,105.7 368.4,107.2 366.4,107.4"/>
<polyline class="b" stroke-width="0.8" points="560,16.7 566.7,33.3 563.3,50 570,66.7 566.7,78.3"/>
<polyline class="b" stroke-width="0.8" points="596.7,25 603.3,40 620,53.3 633.3,66.7 646.7,66.7"/>
<polyline class="b" stroke-width="0.8" points="633.3,66.7 640,53.3 653.3,46.7 666.7,50 673.3,36.7"/>
<polyline class="b" stroke-width="0.8" points="620,53.3 613.3,66.7 618.3,71.7"/>
<polyline class="b" stroke-width="0.8" points="676.7,36.7 683.3,50 680,61.7"/>
<polyline class="b" stroke-width="0.8" points="526.7,13.3 533.3,33.3 530,53.3 540,66.7"/>
<polyline class="b" stroke-width="0.8" points="473.3,43.3 476.7,60 473.3,76.7 460,83.3"/>
<polyline class="b" stroke-width="0.8" points="433.3,56.7 446.7,60 460,56.7 473.3,60"/>
<polyline class="b" stroke-width="0.8" points="433.3,73.3 446.7,76.7 460,83.3"/>
<polyline class="b" stroke-width="0.8" points="446.7,43.3 450,60 446.7,76.7"/>
<polyline class="b" stroke-width="0.8" points="460,33.3 460,56.7"/>
<polyline class="b" stroke-width="0.8" points="493.3,40 490,56.7 500,70 493.3,83.3"/>
<polyline class="b" stroke-width="0.8" points="506.7,33.3 510,53.3 513.3,73.3"/>
<g font-family="'DejaVu Sans','Liberation Sans',sans-serif" font-weight="bold" font-size="16.6" fill="#ba7750" stroke="#ba7750" stroke-width="0.55">
<text x="122.3" y="402.5">DST is no longer used.</text>
<text x="125.7" y="452.5">DST is being used</text>
<text x="125.7" y="491.8">DST has never been used</text>
</g>
</svg>
<div class="box" style="left:34px;top:378px;width:50px;height:24px;background:#d09450"></div>
<div class="box" style="left:34px;top:428px;width:50px;height:24px;background:#2880e8"></div>
<div class="box" style="left:35px;top:476px;width:49px;height:22px;background:#bf0a0a"></div>
</body></html>
